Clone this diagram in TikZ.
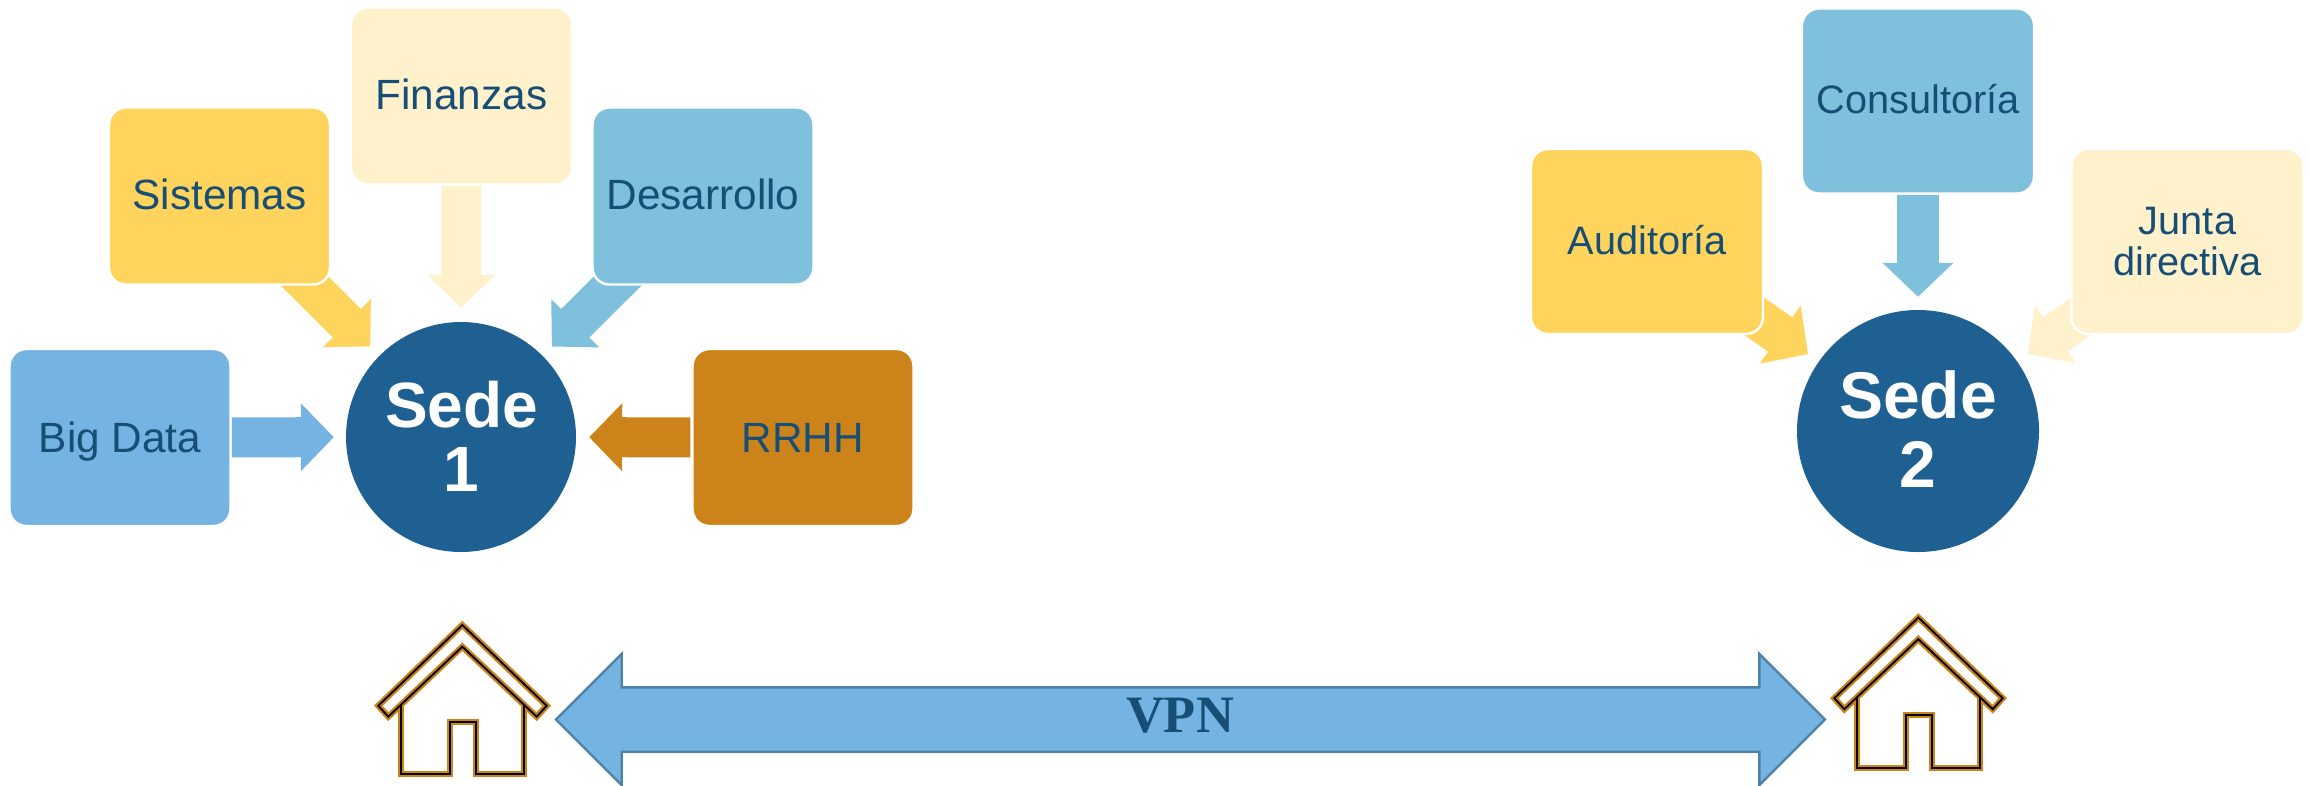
\documentclass[tikz,border=0pt]{standalone}
\usepackage{fontspec}
\setmainfont{Liberation Sans}
\newfontfamily\vpnfont{Liberation Serif}
\usetikzlibrary{arrows.meta,shapes.arrows}
\pgfdeclarelayer{under}
\pgfsetlayers{under,main}
\definecolor{cyellow}{HTML}{FFD45C}
\definecolor{ccream}{HTML}{FFF1CC}
\definecolor{cteal}{HTML}{7FC0DC}
\definecolor{cblue}{HTML}{74B3E2}
\definecolor{corange}{HTML}{CC8319}
\definecolor{cdeep}{HTML}{1E6091}
\definecolor{ctext}{HTML}{174E75}
\definecolor{cedge}{HTML}{4F81A6}
\tikzset{
  x=1pt,y=-1pt,
  boxa/.style={draw=white,line width=2.4pt,rounded corners=17pt,inner sep=0pt,
    text=ctext,align=center,font=\fontsize{42.3}{46}\selectfont,
    minimum width=221pt,minimum height=177pt},
  boxb/.style={boxa,font=\fontsize{39.7}{41}\selectfont,minimum width=232pt,minimum height=185pt},
  lineup/.style={text height=30pt,text depth=#1},
  hub/.style={circle,fill=cdeep,text=white,align=center,inner sep=0pt},
  arrowa/.style={line cap=butt,line width=40pt,-{Triangle[width=66pt,length=33pt]}},
  arrowb/.style={line cap=butt,line width=42pt,-{Triangle[width=69pt,length=34pt]}},
  houseline/.style={draw=#1,fill=none,line join=miter,miter limit=10},
  houseorange/.style={houseline=corange,line width=6.2pt},
  houseblack/.style={houseline=black,line width=1.9pt},
  houseshape/.pic={
    \foreach \sty in {houseorange,houseblack}{
      \path[\sty] (0,0) -- (-84,80.7) -- (-74,91.7) -- (0,21.7) -- (74.4,91.7) -- (84.4,80.7) -- cycle;
      \path[\sty] (-61.3,80) -- (-61.3,#1) -- (-12.3,#1) -- (-12.3,97.3) -- (13.4,97.3) -- (13.4,#1) -- (62,#1) -- (62,80);
    }
  }
}
\begin{document}
\begin{tikzpicture}
\useasboundingbox (0,0) rectangle (2310,785);
% Sede 1
\node[hub,minimum size=230pt,font=\fontsize{64}{64}\selectfont\bfseries] (sede1) at (461,437) {\hspace*{1pt}Sede\\1\rule[-1pt]{0pt}{1pt}};
\node[boxa,fill=ccream,lineup=3.5pt] (finanzas) at (461.5,96) {Finanzas};
\node[boxa,fill=cyellow,lineup=4pt] (sistemas) at (219.5,196) {Sistemas};
\node[boxa,fill=cteal,lineup=4pt] (desarrollo) at (703,196) {Desarrollo};
\node[boxa,fill=cblue,lineup=0pt] (bigdata) at (120,437.5) {Big Data};
\node[boxa,fill=corange,lineup=0pt] (rrhh) at (803,437.5) {RRHH};
% Sede 2
\node[hub,minimum size=242pt,font=\fontsize{66}{68.7}\selectfont\bfseries] (sede2) at (1918,431) {Sede\\2\rule[-3.8pt]{0pt}{3.8pt}};
\node[boxb,fill=cteal,lineup=6pt] (consultoria) at (1918,101) {Consultoría};
\node[boxb,fill=cyellow,lineup=5pt] (auditoria) at (1647,241.5) {Auditoría};
\node[boxb,fill=ccream] (junta) at (2187.5,241.5) {Junta\\directiva};
% connectors
\begin{pgfonlayer}{under}
\draw[arrowa,draw=ccream,shorten <=0pt,shorten >=14pt] (finanzas) -- (sede1);
\draw[arrowa,draw=cyellow,shorten <=-30pt,shorten >=13pt] (sistemas) -- (sede1);
\draw[arrowa,draw=cteal,shorten <=-30pt,shorten >=13pt] (desarrollo) -- (sede1);
\draw[arrowa,draw=cblue,shorten <=0pt,shorten >=12pt] (bigdata) -- (sede1);
\draw[arrowa,draw=corange,shorten <=1pt,shorten >=13pt] (rrhh) -- (sede1);
\draw[arrowb,draw=cteal,shorten <=0pt,shorten >=13pt] (consultoria) -- (sede2);
\draw[arrowb,draw=cyellow,shorten <=-30pt,shorten >=13pt] (auditoria) -- (sede2);
\draw[arrowb,draw=ccream,shorten <=-30pt,shorten >=13pt] (junta) -- (sede2);
\end{pgfonlayer}
% VPN link
\node[double arrow,draw=cedge,fill=cblue,line width=2.4pt,inner xsep=0pt,inner ysep=31pt,
  minimum height=1269pt,minimum width=129pt,double arrow head extend=33.5pt,
  double arrow head indent=0pt] (vpnarrow) at (1190.5,719.5) {};
\node[anchor=base,inner sep=0pt,font=\vpnfont\fontsize{52.5}{53}\selectfont\bfseries,text=ctext] (vpn) at (1180,732) {VPN};
% houses
\pic at (462.3,625) {houseshape=149};
\pic at (1918.3,617.5) {houseshape=150.8};
\end{tikzpicture}
\end{document}
